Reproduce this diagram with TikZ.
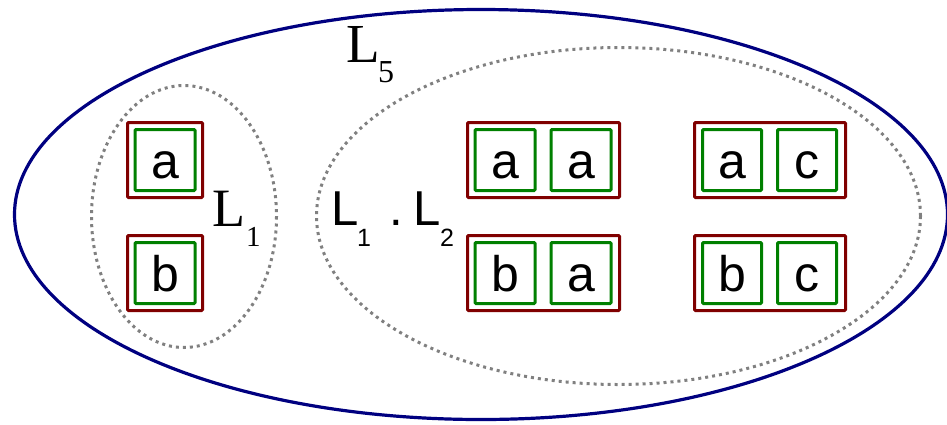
\documentclass[tikz,border=0pt]{standalone}
\usepackage{fontspec}
\setmainfont{Liberation Serif}
\setsansfont{Liberation Sans}
\begin{document}
\begin{tikzpicture}[x=1pt,y=-1pt,
  outerset/.style={draw={rgb,255:red,0;green,0;blue,128},line width=3.2pt},
  dotset/.style={draw={rgb,255:red,128;green,128;blue,128},line width=3pt,dash pattern=on 3pt off 4pt},
  redbox/.style={draw={rgb,255:red,128;green,0;blue,0},line width=3pt,rounded corners=1pt,inner sep=0pt,minimum height=75pt},
  greenbox/.style={draw={rgb,255:red,0;green,128;blue,0},line width=3pt,rounded corners=1pt,inner sep=0pt,minimum width=60pt,minimum height=61pt,
     text height=36pt,text depth=0pt,font=\sffamily\fontsize{50}{50}\selectfont},
  lab/.style={inner sep=0pt,anchor=base west}
]
\useasboundingbox (0,0) rectangle (947,424);
% ellipses
\draw[outerset] (481,214.5) ellipse [x radius=466.5, y radius=205];
\draw[dotset] (184,216.5) ellipse [x radius=92.5, y radius=131];
\draw[dotset] (618.5,216) ellipse [x radius=302, y radius=168.5];
% single boxes
\node[redbox,minimum width=75pt] (ra) at (165,160) {};
\node[greenbox] (ga) at (165,160) {a};
\node[redbox,minimum width=75pt] (rb) at (165,273) {};
\node[greenbox] (gb) at (165,273) {b};
% double boxes
\node[redbox,minimum width=152pt] (raa) at (543.5,160) {};
\node[greenbox] (raa1) at (505,160) {a};
\node[greenbox] (raa2) at (581,160) {a};
\node[redbox,minimum width=152pt] (rba) at (543.5,273) {};
\node[greenbox] (rba1) at (505,273) {b};
\node[greenbox] (rba2) at (581,273) {a};
\node[redbox,minimum width=151pt] (rac) at (770,160) {};
\node[greenbox,minimum width=59pt] (rac1) at (732,160) {a};
\node[greenbox,minimum width=59pt] (rac2) at (807,160) {c};
\node[redbox,minimum width=151pt] (rbc) at (770,273) {};
\node[greenbox,minimum width=59pt] (rbc1) at (732,273) {b};
\node[greenbox,minimum width=59pt] (rbc2) at (807,273) {c};
% labels
\node[lab,font=\fontsize{54}{54}\selectfont] (l1) at (212,226) {L};
\node[lab,font=\fontsize{29}{29}\selectfont] (l1s) at (246,246) {1};
\node[lab,font=\fontsize{55}{55}\selectfont] (l5) at (346,62) {L};
\node[lab,font=\fontsize{32}{32}\selectfont] (l5s) at (378,82) {5};
\node[lab,font=\sffamily\fontsize{49}{49}\selectfont] (m1) at (331,225) {L};
\node[lab,font=\sffamily\fontsize{25}{25}\selectfont] (m1s) at (357,246) {1};
\node[lab,font=\sffamily\fontsize{49}{49}\selectfont] (mdot) at (389,225) {.};
\node[lab,font=\sffamily\fontsize{49}{49}\selectfont] (m2) at (413,225) {L};
\node[lab,font=\sffamily\fontsize{25}{25}\selectfont] (m2s) at (440,246) {2};
\end{tikzpicture}
\end{document}
